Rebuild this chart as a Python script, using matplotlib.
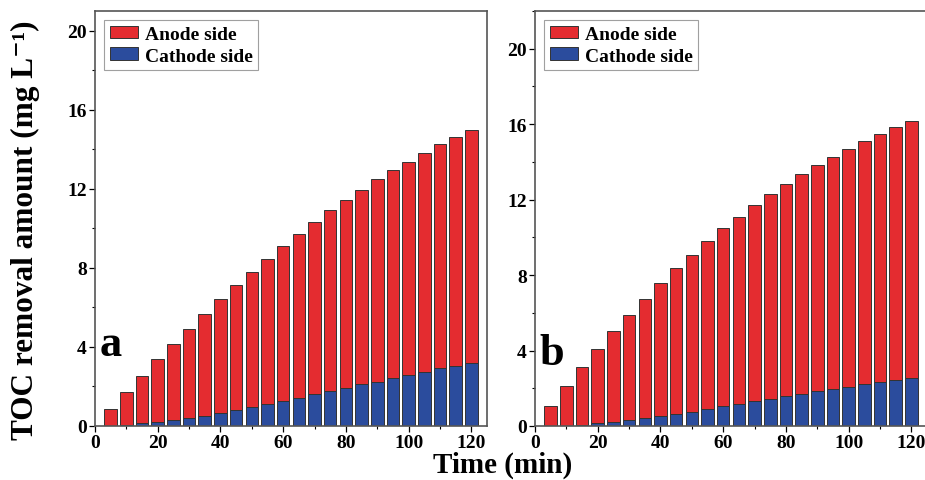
import matplotlib
matplotlib.use("Agg")
import matplotlib.pyplot as plt
import numpy as np
from matplotlib.ticker import MultipleLocator

time_min = [5, 10, 15, 20, 25, 30, 35, 40, 45, 50, 55, 60,
            65, 70, 75, 80, 85, 90, 95, 100, 105, 110, 115, 120]

# panel a: total (top of red) and cathode (blue)
total_a = [0.84, 1.71, 2.55, 3.38, 4.15, 4.92, 5.69, 6.43, 7.12, 7.81, 8.46, 9.12,
           9.74, 10.33, 10.92, 11.45, 11.96, 12.48, 12.93, 13.38, 13.82, 14.26, 14.64, 14.98]
cathode_a = [0.02, 0.07, 0.13, 0.20, 0.29, 0.42, 0.52, 0.67, 0.79, 0.94, 1.11, 1.28,
             1.43, 1.60, 1.76, 1.93, 2.10, 2.25, 2.42, 2.59, 2.74, 2.91, 3.06, 3.19]

# panel b
total_b = [1.06, 2.11, 3.11, 4.08, 5.01, 5.89, 6.75, 7.58, 8.36, 9.08, 9.80, 10.48,
           11.10, 11.72, 12.28, 12.84, 13.35, 13.83, 14.28, 14.71, 15.11, 15.48, 15.83, 16.15]
cathode_b = [0.00, 0.02, 0.07, 0.14, 0.21, 0.30, 0.40, 0.53, 0.65, 0.76, 0.90, 1.04,
             1.18, 1.32, 1.44, 1.58, 1.72, 1.85, 1.97, 2.09, 2.22, 2.34, 2.45, 2.57]

RED = "#E42C30"
BLUE = "#2B4C9D"
plt.rcParams['font.family'] = ['Liberation Serif', 'DejaVu Serif']
plt.rcParams['font.weight'] = 'bold'

fig = plt.figure(figsize=(9.25, 4.81), dpi=100)
axa = fig.add_axes([0.1027, 0.1123, 0.4238, 0.8627])
axb = fig.add_axes([0.5784, 0.1123, 0.4238, 0.8627])

def draw(ax, total, cathode, ymax, letter, ly):
    t = np.array(time_min)
    cat = np.array(cathode)
    an = np.array(total) - cat
    ax.bar(t, an, width=4, bottom=cat, color=RED, edgecolor="#333333",
           linewidth=0.7, label="Anode side", zorder=2)
    ax.bar(t, cat, width=4, color=BLUE, edgecolor="#333333",
           linewidth=0.7, label="Cathode side", zorder=2)
    ax.set_xlim(0, 125)
    ax.set_ylim(0, ymax)
    ax.xaxis.set_major_locator(MultipleLocator(20))
    ax.xaxis.set_minor_locator(MultipleLocator(10))
    ax.yaxis.set_major_locator(MultipleLocator(4))
    ax.yaxis.set_minor_locator(MultipleLocator(2))
    ax.set_yticks(np.arange(0, 21, 4))
    ax.tick_params(which='major', direction='out', length=4, width=0.9, labelsize=14, pad=2)
    ax.tick_params(which='minor', direction='out', length=2.5, width=0.8)
    for lab in ax.get_xticklabels() + ax.get_yticklabels():
        lab.set_fontweight('bold')
    for s in ax.spines.values():
        s.set_color("#555555")
        s.set_linewidth(1.2)
    leg = ax.legend(loc='upper left', bbox_to_anchor=(0.0, 1.0),
                    prop={'weight': 'bold', 'size': 14}, frameon=True, fancybox=False,
                    handlelength=1.45, handleheight=0.6, handletextpad=0.35,
                    borderpad=0.3, labelspacing=0.25, borderaxespad=0.45)
    leg.get_frame().set_edgecolor("#888888")
    leg.get_frame().set_linewidth(0.8)
    ax.text(0.012, ly, letter, transform=ax.transAxes, fontsize=32,
            fontweight='bold', va='baseline', ha='left')

draw(axa, total_a, cathode_a, 21, "a", 0.17)
draw(axb, total_b, cathode_b, 22, "b", 0.15)

fig.text(0.027, 0.522, "TOC removal amount (mg L\u207b\u00b9)", rotation=90,
         ha='center', va='center', fontsize=22.5, fontweight='bold')
fig.text(0.543, 0.032, "Time (min)", ha='center', va='center',
         fontsize=21, fontweight='bold')

fig.savefig("out.png", dpi=100)
